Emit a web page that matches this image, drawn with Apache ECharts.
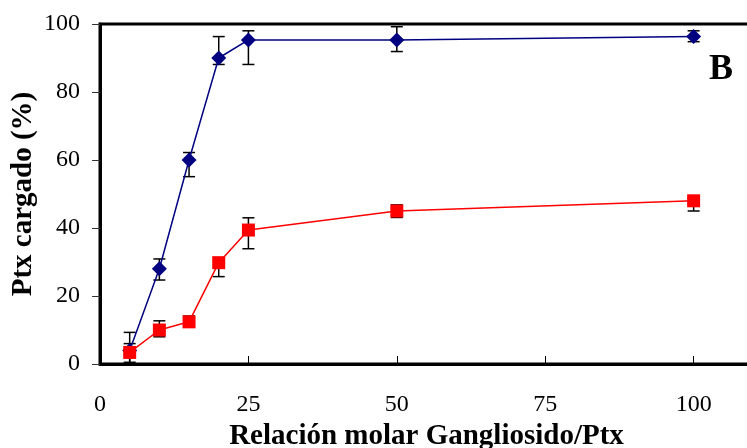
<!DOCTYPE html>
<html>
<head>
<meta charset="utf-8">
<script src="https://cdn.jsdelivr.net/npm/echarts@6/dist/echarts.min.js"></script>
<style>
  html, body { margin: 0; padding: 0; background: #fff; }
  #chart { width: 747px; height: 448px; }
</style>
</head>
<body>
<div id="chart"></div>
<script>
// Molar ratio ganglioside / Ptx
const ratios = [5, 10, 15, 20, 25, 50, 100];

// Loaded Ptx (%) – blue diamonds
const blueMean = [4, 28, 60, 90, 95.3, 95.3, 96.3];
const blueLow  = [0, 24.7, 55.1, 88.1, 88.1, 91.9, 94.8];
const blueHigh = [9.3, 30.9, 62.2, 96.3, 98.0, 99.2, 98.0];

// Loaded Ptx (%) – red squares
const redMean = [3.4, 10.0, 12.4, 29.8, 39.4, 45.0, 48.0];
const redLow  = [0.5, 8.0, 11.0, 25.7, 33.9, 43.1, 45.0];
const redHigh = [6.0, 12.7, 14.1, 30.6, 43.0, 46.8, 48.7];

const xTicks = [0, 25, 50, 75, 100];
const yTicks = [0, 20, 40, 60, 80, 100];

const FONT = '"Liberation Serif", "Times New Roman", serif';

function pairs(xs, ys) { return xs.map((x, i) => [x, ys[i]]); }
function errRows(xs, lo, hi) { return xs.map((x, i) => [x, lo[i], hi[i]]); }

function errorBarRender(params, api) {
  const x = api.value(0);
  const lo = api.coord([x, api.value(1)]);
  const hi = api.coord([x, api.value(2)]);
  const half = 6;
  const style = { stroke: '#000', lineWidth: 1.5 };
  return {
    type: 'group',
    children: [
      { type: 'line', shape: { x1: lo[0], y1: lo[1], x2: hi[0], y2: hi[1] }, style },
      { type: 'line', shape: { x1: lo[0] - half, y1: lo[1], x2: lo[0] + half, y2: lo[1] }, style },
      { type: 'line', shape: { x1: hi[0] - half, y1: hi[1], x2: hi[0] + half, y2: hi[1] }, style }
    ]
  };
}

const chart = echarts.init(document.getElementById('chart'), null, { renderer: 'canvas' });

chart.setOption({
  animation: false,
  backgroundColor: '#fff',
  grid: {
    left: 100, top: 24, width: 653, bottom: 84,
    containLabel: false, outerBoundsMode: 'none',
    show: true, borderColor: '#000', borderWidth: 3, backgroundColor: 'transparent'
  },
  xAxis: {
    type: 'value', min: 0, max: 110, interval: 25,
    name: 'Relación molar Gangliosido/Ptx',
    nameLocation: 'middle', nameGap: 57,
    nameTextStyle: { fontFamily: FONT, fontWeight: 'bold', fontSize: 29, color: '#000' },
    axisLine: { show: true, lineStyle: { color: '#000', width: 3 } },
    axisTick: { show: true, inside: true, length: 8, lineStyle: { color: '#000', width: 1 } },
    axisLabel: {
      margin: 29, fontFamily: FONT, fontSize: 24, color: '#000',
      formatter: v => (xTicks.indexOf(v) >= 0 ? String(v) : '')
    },
    splitLine: { show: false }
  },
  yAxis: {
    type: 'value', min: 0, max: 100, interval: 20,
    name: 'Ptx cargado (%)',
    nameLocation: 'middle', nameGap: 62, nameRotate: 90, nameMoveOverlap: false,
    nameTextStyle: { fontFamily: FONT, fontWeight: 'bold', fontSize: 29, color: '#000' },
    axisLine: { show: true, lineStyle: { color: '#000', width: 3 } },
    axisTick: { show: true, inside: false, length: 8, lineStyle: { color: '#333', width: 1 } },
    axisLabel: {
      margin: 20, fontFamily: FONT, fontSize: 24, color: '#000',
      formatter: v => (yTicks.indexOf(v) >= 0 ? String(v) : '')
    },
    splitLine: { show: false }
  },
  graphic: [{
    type: 'text', left: 709, top: 52,
    style: { text: 'B', font: 'bold 36px ' + FONT, fill: '#000' }
  }],
  series: [
    {
      type: 'custom', name: 'blueErr', renderItem: errorBarRender,
      data: errRows(ratios, blueLow, blueHigh), z: 2,
      encode: { x: 0, y: [1, 2] }
    },
    {
      type: 'custom', name: 'redErr', renderItem: errorBarRender,
      data: errRows(ratios, redLow, redHigh), z: 2,
      encode: { x: 0, y: [1, 2] }
    },
    {
      type: 'line', name: 'blue', data: pairs(ratios, blueMean), z: 3,
      symbol: 'diamond', symbolSize: 15,
      lineStyle: { color: '#000080', width: 1.5 },
      itemStyle: { color: '#000080' }
    },
    {
      type: 'line', name: 'red', data: pairs(ratios, redMean), z: 4,
      symbol: 'rect', symbolSize: 13,
      lineStyle: { color: '#ff0000', width: 1.5 },
      itemStyle: { color: '#ff0000' }
    }
  ]
});
</script>
</body>
</html>
